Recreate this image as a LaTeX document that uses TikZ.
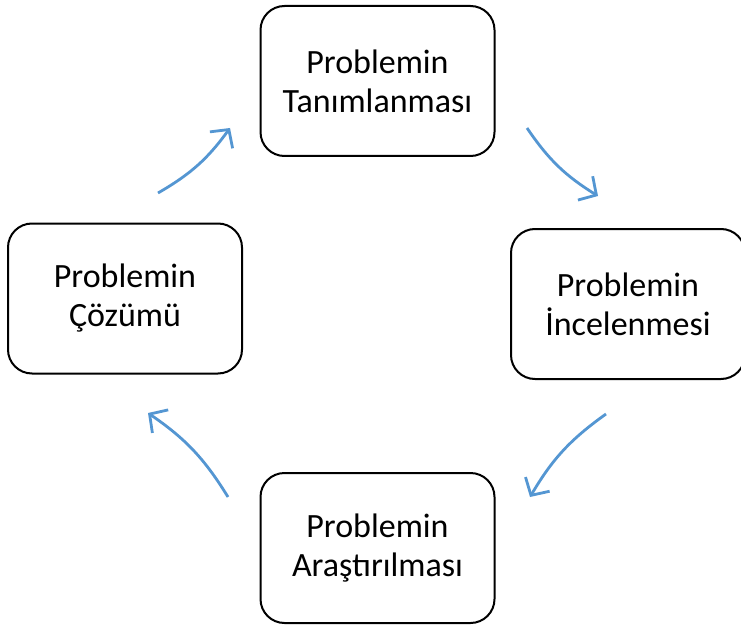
\documentclass[tikz,border=0pt]{standalone}
\usepackage{fontspec}
\setmainfont{Carlito}
\usetikzlibrary{arrows.meta}
\definecolor{arrowblue}{RGB}{84,150,210}
\begin{document}
\begin{tikzpicture}[x=1pt,y=-1pt,
  stagebox/.style={draw=black,line width=2pt,rounded corners=24pt,minimum width=234pt,minimum height=150pt,align=center,font=\fontsize{34}{39}\selectfont,inner sep=0pt},
  cyclearrow/.style={draw=arrowblue,line width=2.8pt,-{Straight Barb[length=13pt,width=28pt,line width=2.8pt]}}]
\useasboundingbox (0,0) rectangle (741,631);
\node[stagebox] (top) at (377.5,81) {Problemin\\Tanımlanması};
\node[stagebox] (right) at (628,304) {Problemin\\İncelenmesi};
\node[stagebox] (bottom) at (377.5,548) {Problemin\\Araştırılması};
\node[stagebox] (left) at (125,298.5) {Problemin\\Çözümü};
\coordinate (a1s) at (527,128); \coordinate (a1e) at (598,196);
\coordinate (a2s) at (606,414); \coordinate (a2e) at (530,497);
\coordinate (a3s) at (228,497); \coordinate (a3e) at (148,413);
\coordinate (a4s) at (158,193); \coordinate (a4e) at (230,128);
\draw[cyclearrow] (a1s) to[bend right=12] (a1e);
\draw[cyclearrow] (a2s) to[bend right=12] (a2e);
\draw[cyclearrow] (a3s) to[bend right=12] (a3e);
\draw[cyclearrow] (a4s) to[bend right=12] (a4e);
\end{tikzpicture}
\end{document}
